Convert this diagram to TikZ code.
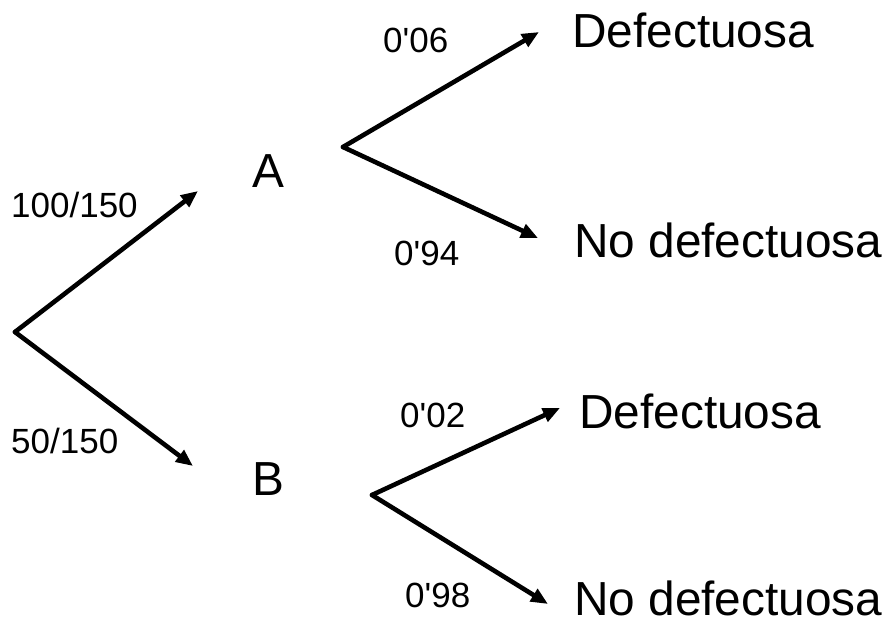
\documentclass[tikz,border=0pt]{standalone}
\usepackage{fontspec}
\setmainfont{Liberation Sans}
\usetikzlibrary{arrows.meta}
\begin{document}
\begin{tikzpicture}[x=1pt,y=-1pt,
  big/.style={anchor=base west,inner sep=0pt,font=\fontsize{47.8}{50}\selectfont},
  lbl/.style={anchor=base west,inner sep=0pt,font=\fontsize{35}{38}\selectfont},
  branch/.style={line width=4.6pt,line cap=round,-{Triangle[length=17pt,width=14pt]}}]
\useasboundingbox (0,0) rectangle (887,621);
% points
\coordinate (root) at (15,332);
\coordinate (tA) at (198,191);
\coordinate (tB) at (193,466);
\coordinate (oA) at (343,147);
\coordinate (tAD) at (539,32);
\coordinate (tAN) at (538,238);
\coordinate (oB) at (372,495);
\coordinate (tBD) at (560,408);
\coordinate (tBN) at (548,604);
% labels
\node[big] (A) at (252,187) {A};
\node[big] (B) at (252,495) {B};
\node[big] (AD) at (572,47) {Defectuosa};
\node[big] (AN) at (574,257) {No defectuosa};
\node[big] (BD) at (579,428) {Defectuosa};
\node[big] (BN) at (574,615) {No defectuosa};
\node[lbl] (p1) at (11,217) {100/150};
\node[lbl] (p2) at (11,453) {50/150};
\node[lbl] (p3) at (383,52) {0\textquotesingle 06};
\node[lbl] (p4) at (394,265) {0\textquotesingle 94};
\node[lbl] (p5) at (400,427) {0\textquotesingle 02};
\node[lbl] (p6) at (405,607) {0\textquotesingle 98};
% branches
\draw[branch] (root) -- (tA);
\draw[branch] (root) -- (tB);
\draw[branch] (oA) -- (tAD);
\draw[branch] (oA) -- (tAN);
\draw[branch] (oB) -- (tBD);
\draw[branch] (oB) -- (tBN);
\end{tikzpicture}
\end{document}
